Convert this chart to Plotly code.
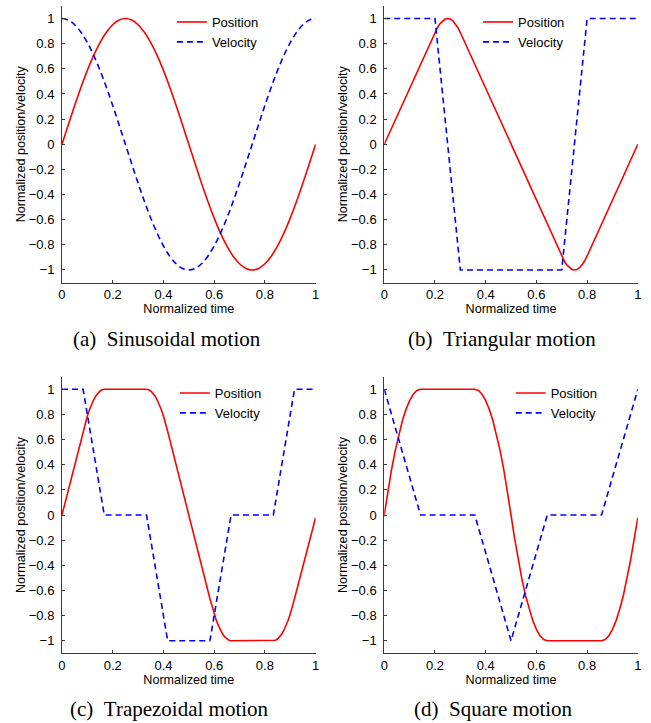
import plotly.graph_objects as go

W, H = 651, 723

# ---------------- data ----------------
# (a) sinusoidal motion
sin_t = [0, 0.025, 0.05, 0.075, 0.1, 0.125, 0.15, 0.175, 0.2, 0.225,
         0.25, 0.275, 0.3, 0.325, 0.35, 0.375, 0.4, 0.425, 0.45, 0.475,
         0.5, 0.525, 0.55, 0.575, 0.6, 0.625, 0.65, 0.675, 0.7, 0.725,
         0.75, 0.775, 0.8, 0.825, 0.85, 0.875, 0.9, 0.925, 0.95, 0.975, 1.0]
sin_position = [0, 0.156, 0.309, 0.454, 0.588, 0.707, 0.809, 0.891, 0.951, 0.988,
                1, 0.988, 0.951, 0.891, 0.809, 0.707, 0.588, 0.454, 0.309, 0.156,
                0, -0.156, -0.309, -0.454, -0.588, -0.707, -0.809, -0.891, -0.951, -0.988,
                -1, -0.988, -0.951, -0.891, -0.809, -0.707, -0.588, -0.454, -0.309, -0.156, 0]
sin_velocity = [1, 0.988, 0.951, 0.891, 0.809, 0.707, 0.588, 0.454, 0.309, 0.156,
                0, -0.156, -0.309, -0.454, -0.588, -0.707, -0.809, -0.891, -0.951, -0.988,
                -1, -0.988, -0.951, -0.891, -0.809, -0.707, -0.588, -0.454, -0.309, -0.156,
                0, 0.156, 0.309, 0.454, 0.588, 0.707, 0.809, 0.891, 0.951, 0.988, 1]

# (b) triangular motion
tri_pos_t = [0, 0.2, 0.21, 0.22, 0.23, 0.24, 0.25, 0.26, 0.27, 0.28, 0.29, 0.3,
             0.7, 0.71, 0.72, 0.73, 0.74, 0.75, 0.76, 0.77, 0.78, 0.79, 0.8, 1.0]
tri_position = [0, 0.889, 0.929, 0.96, 0.982, 0.996, 1, 0.996, 0.982, 0.96, 0.929, 0.889,
                -0.889, -0.929, -0.96, -0.982, -0.996, -1, -0.996, -0.982, -0.96, -0.929, -0.889, 0]
tri_vel_t = [0, 0.2, 0.3, 0.7, 0.8, 1.0]
tri_velocity = [1, 1, -1, -1, 1, 1]

# (c) trapezoidal motion
trap_pos_t = [0,
              0.0833, 0.0917, 0.1, 0.1083, 0.1167, 0.125, 0.1333, 0.1417, 0.15, 0.1583, 0.1667,
              0.3333, 0.3417, 0.35, 0.3583, 0.3667, 0.375, 0.3833, 0.3917, 0.4, 0.4083, 0.4167,
              0.5833, 0.5917, 0.6, 0.6083, 0.6167, 0.625, 0.6333, 0.6417, 0.65, 0.6583, 0.6667,
              0.8333, 0.8417, 0.85, 0.8583, 0.8667, 0.875, 0.8833, 0.8917, 0.9, 0.9083, 0.9167,
              1.0]
trap_position = [0,
                 0.6667, 0.73, 0.7867, 0.8367, 0.88, 0.9167, 0.9467, 0.97, 0.9867, 0.9967, 1.0,
                 1.0, 0.9967, 0.9867, 0.97, 0.9467, 0.9167, 0.88, 0.8367, 0.7867, 0.73, 0.6667,
                 -0.6667, -0.73, -0.7867, -0.8367, -0.88, -0.9167, -0.9467, -0.97, -0.9867, -0.9967, -1.0,
                 -1.0, -0.9967, -0.9867, -0.97, -0.9467, -0.9167, -0.88, -0.8367, -0.7867, -0.73, -0.6667,
                 -0.02]
trap_vel_t = [0, 0.0833, 0.1667, 0.3333, 0.4167, 0.5833, 0.6667, 0.8333, 0.9167, 1.0]
trap_velocity = [1, 1, 0, 0, -1, -1, 0, 0, 1, 1]

# (d) square motion
sq_pos_t = [0, 0.0143, 0.0286, 0.0429, 0.0571, 0.0714, 0.0857, 0.1, 0.1143, 0.1286, 0.1429,
            0.3571, 0.3714, 0.3857, 0.4, 0.4143, 0.4286, 0.4429, 0.4571, 0.4714, 0.4857, 0.5,
            0.5143, 0.5286, 0.5429, 0.5571, 0.5714, 0.5857, 0.6, 0.6143, 0.6286, 0.6429,
            0.8571, 0.8714, 0.8857, 0.9, 0.9143, 0.9286, 0.9429, 0.9571, 0.9714, 0.9857, 1.0]
sq_position = [0, 0.19, 0.36, 0.51, 0.64, 0.75, 0.84, 0.91, 0.96, 0.99, 1.0,
               1.0, 0.99, 0.96, 0.91, 0.84, 0.75, 0.64, 0.51, 0.36, 0.19, 0,
               -0.19, -0.36, -0.51, -0.64, -0.75, -0.84, -0.91, -0.96, -0.99, -1.0,
               -1.0, -0.99, -0.96, -0.91, -0.84, -0.75, -0.64, -0.51, -0.36, -0.19, -0.02]
sq_vel_t = [0, 0.1429, 0.3571, 0.5, 0.6429, 0.8571, 1.0]
sq_velocity = [1, 0, 0, -1, 0, 0, 1]

x_ticks = [0, 0.2, 0.4, 0.6, 0.8, 1]
x_tick_labels = ["0", "0.2", "0.4", "0.6", "0.8", "1"]
y_ticks = [-1, -0.8, -0.6, -0.4, -0.2, 0, 0.2, 0.4, 0.6, 0.8, 1]
y_tick_labels = ["\u22121", "\u22120.8", "\u22120.6", "\u22120.4", "\u22120.2", "0",
                 "0.2", "0.4", "0.6", "0.8", "1"]

captions = ["(a)\u2002Sinusoidal motion", "(b)\u2002Triangular motion",
            "(c)\u2002Trapezoidal motion", "(d)\u2002Square motion"]

panels = [
    (sin_t, sin_position, sin_t, sin_velocity, "spline"),
    (tri_pos_t, tri_position, tri_vel_t, tri_velocity, "linear"),
    (trap_pos_t, trap_position, trap_vel_t, trap_velocity, "linear"),
    (sq_pos_t, sq_position, sq_vel_t, sq_velocity, "linear"),
]

# ---------------- layout geometry (pixels) ----------------
SANS = "Liberation Sans, Arial, Helvetica, sans-serif"
SERIF = "Liberation Serif, Times New Roman, serif"
AXIS_COLOR = "#3a3a3a"

col_x = [(58.7, 315.5), (385.0, 641.7)]
row_y = [(6.0, 282.5), (376.7, 653.3)]
legend_pos = [(170, 7.0), (480, 7.0), (173, 378.0), (513, 378.0)]
caption_pos = [(165, 339), (504, 339), (168, 709), (496, 709)]

fig = go.Figure()
layout = dict(
    width=W, height=H,
    margin=dict(l=0, r=0, t=0, b=0),
    paper_bgcolor="white", plot_bgcolor="white",
    font=dict(family=SANS, size=13, color="black"),
    annotations=[],
)

for i, (pt, pv, vt, vv, shape) in enumerate(panels):
    r, c = divmod(i, 2)
    n = "" if i == 0 else str(i + 1)
    leg = "legend" + n
    fig.add_trace(go.Scatter(
        x=pt, y=pv, mode="lines", name="Position", legend=leg,
        line=dict(color="#ff0000", width=1.6, shape=shape),
        xaxis="x" + n, yaxis="y" + n,
    ))
    fig.add_trace(go.Scatter(
        x=vt, y=vv, mode="lines", name="Velocity", legend=leg,
        line=dict(color="#0000ff", width=1.6, dash="6px,4px", shape=shape),
        xaxis="x" + n, yaxis="y" + n,
    ))

    x0, x1 = col_x[c]
    y0, y1 = row_y[r]
    layout["xaxis" + n] = dict(
        domain=[x0 / W, x1 / W], anchor="y" + n, range=[0, 1],
        tickvals=x_ticks, ticktext=x_tick_labels,
        ticks="inside", ticklen=3, tickcolor=AXIS_COLOR, tickwidth=1,
        showline=True, linecolor=AXIS_COLOR, linewidth=1, mirror=False,
        showgrid=False, zeroline=False, ticklabelstandoff=0,
        tickfont=dict(family=SANS, size=13, color="black"),
        title=dict(text="Normalized time", standoff=0,
                   font=dict(family=SANS, size=12.6, color="black")),
    )
    layout["yaxis" + n] = dict(
        domain=[1 - y1 / H, 1 - y0 / H], anchor="x" + n, range=[-1.1, 1.1],
        tickvals=y_ticks, ticktext=y_tick_labels,
        ticks="inside", ticklen=3, tickcolor=AXIS_COLOR, tickwidth=1,
        showline=True, linecolor=AXIS_COLOR, linewidth=1, mirror=False,
        showgrid=False, zeroline=False, ticklabelstandoff=4,
        tickfont=dict(family=SANS, size=13, color="black"),
        title=dict(text="Normalized position/velocity", standoff=0,
                   font=dict(family=SANS, size=12.6, color="black")),
    )
    lx, ly = legend_pos[i]
    layout[leg] = dict(
        x=lx / W, y=1 - ly / H, xanchor="left", yanchor="top",
        bgcolor="rgba(0,0,0,0)", borderwidth=0, itemwidth=30,
        font=dict(family=SANS, size=13, color="black"),
    )
    cx, cy = caption_pos[i]
    layout["annotations"].append(dict(
        text=captions[i], xref="paper", yref="paper",
        x=cx / W, y=1 - cy / H, xanchor="center", yanchor="middle",
        showarrow=False, font=dict(family=SERIF, size=21, color="black"),
    ))

fig.update_layout(**layout)
fig.write_html("out.html")
